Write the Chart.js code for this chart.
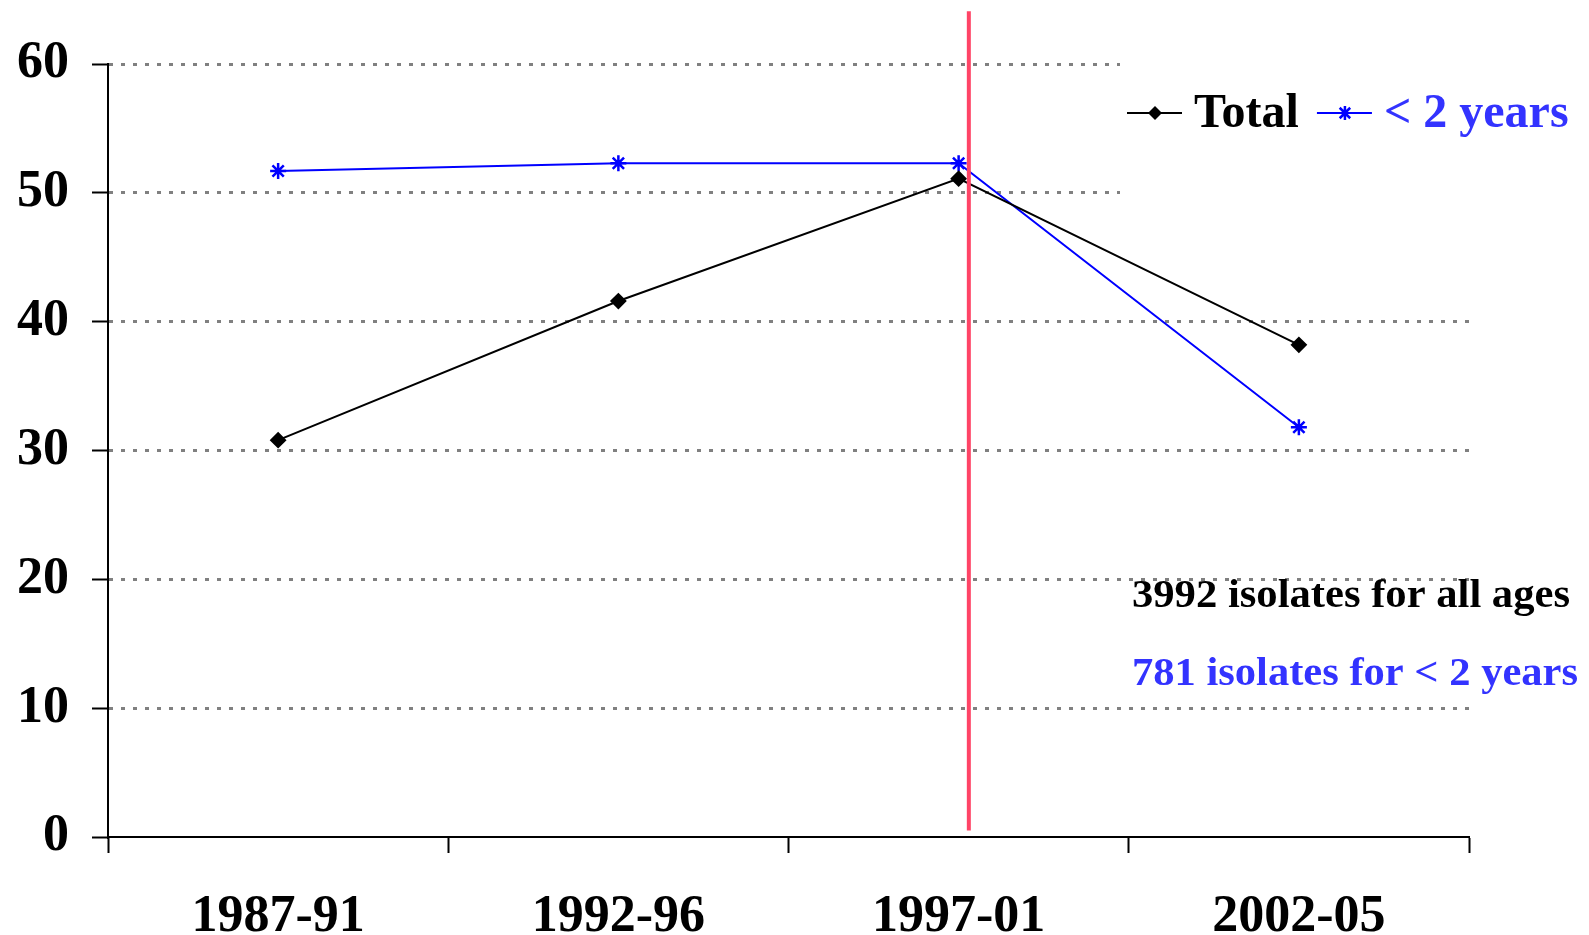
<!DOCTYPE html>
<html>
<head>
<meta charset="utf-8">
<script src="https://cdn.jsdelivr.net/npm/chart.js@4"></script>
<style>
  html, body { margin: 0; background: #fff; }
  #wrap { width: 1589px; height: 935px; }
</style>
</head>
<body>
<div id="wrap"><canvas id="myChart"></canvas></div>
<script>
const periods = ['1987-91', '1992-96', '1997-01', '2002-05'];
const totalPct = [30.8, 41.6, 51.1, 38.2];
const under2Pct = [51.7, 52.3, 52.3, 31.8];
const yMin = 0, yMax = 60, yStep = 10;
const splitAt = 2.03; // red marker line, in category units
const notes = [
  ['3992 isolates for all ages', '#000000'],
  ['781 isolates for < 2 years', '#3333FF']
];

const serif = '"Liberation Serif", "Times New Roman", serif';

function drawMarker(c, style, x, y, r, color) {
  c.save();
  c.strokeStyle = color;
  c.fillStyle = color;
  c.lineWidth = 2.5;
  c.beginPath();
  if (style === 'rectRot') {
    c.moveTo(x, y - r); c.lineTo(x + r, y); c.lineTo(x, y + r); c.lineTo(x - r, y);
    c.closePath(); c.fill();
  } else {
    const d = r * 0.75;
    c.moveTo(x, y - r); c.lineTo(x, y + r);
    c.moveTo(x - d, y - d); c.lineTo(x + d, y + d);
    c.moveTo(x - d, y + d); c.lineTo(x + d, y - d);
    c.stroke();
  }
  c.restore();
}

const extras = {
  id: 'extras',
  beforeDatasetsDraw(chart) {
    // legend box (white) hides the top grid lines on the right
    const c = chart.ctx;
    c.save();
    c.fillStyle = '#fff';
    c.fillRect(1120, 40, 469, 165);
    c.restore();
  },
  afterDatasetsDraw(chart) {
    const c = chart.ctx;
    const xs = chart.scales.x, ys = chart.scales.y;
    // red divider
    const rx = xs.getPixelForValue(splitAt);
    c.save();
    c.strokeStyle = '#FF4466';
    c.lineWidth = 4;
    c.beginPath();
    c.moveTo(rx, ys.getPixelForValue(64.1));
    c.lineTo(rx, ys.getPixelForValue(0.5));
    c.stroke();

    // legend
    const ds = chart.data.datasets;
    const textColors = ['#000000', '#3333FF'];
    let x = 1127;
    const ly = 113;
    c.font = 'bold 48px ' + serif;
    c.textBaseline = 'alphabetic';
    ds.forEach((d, i) => {
      c.strokeStyle = d.borderColor;
      c.lineWidth = 2;
      c.beginPath();
      c.moveTo(x, ly); c.lineTo(x + 55, ly);
      c.stroke();
      drawMarker(c, d.pointStyle, x + 28, ly, 7, d.borderColor);
      x += 55 + 12;
      c.fillStyle = textColors[i];
      c.fillText(d.label, x, 127);
      x += c.measureText(d.label).width + 18;
    });

    // notes (source text is set slightly wide)
    c.font = 'bold 40px ' + serif;
    const widths = [438, 446];
    notes.forEach((n, i) => {
      const w = c.measureText(n[0]).width;
      c.save();
      c.translate(1132, 607 + i * 78);
      c.scale(widths[i] / w, 1);
      c.fillStyle = n[1];
      c.fillText(n[0], 0, 0);
      c.restore();
    });
    c.restore();
  }
};

const ctx = document.getElementById('myChart');

new Chart(ctx, {
  type: 'line',
  data: {
    labels: periods,
    datasets: [{
      label: 'Total',
      data: totalPct,
      borderColor: '#000000',
      backgroundColor: '#000000',
      borderWidth: 2,
      pointStyle: 'rectRot',
      pointRadius: 7,
      pointHoverRadius: 7
    }, {
      label: '< 2 years',
      data: under2Pct,
      borderColor: '#0000FF',
      backgroundColor: '#0000FF',
      borderWidth: 2,
      pointStyle: 'star',
      pointRadius: 8,
      pointBorderWidth: 2.5,
      pointHoverRadius: 8
    }]
  },
  options: {
    responsive: true,
    maintainAspectRatio: false,
    animation: false,
    events: [],
    layout: { padding: { top: 64, right: 120, left: 0, bottom: 0 } },
    plugins: { legend: { display: false }, tooltip: { enabled: false } },
    scales: {
      x: {
        offset: true,
        grid: {
          offset: true,
          drawOnChartArea: false,
          drawTicks: true,
          tickLength: 16,
          tickColor: '#000',
          tickWidth: 2
        },
        border: { color: '#000', width: 2 },
        ticks: {
          color: '#000',
          padding: 33,
          font: { family: serif, size: 52, weight: 'bold' }
        },
        afterFit(scale) { scale.height = 98; }
      },
      y: {
        min: yMin,
        max: yMax,
        grid: {
          color: (c) => (c.tick && c.tick.value === 0 ? 'rgba(0,0,0,0)' : '#808080'),
          lineWidth: 3,
          tickLength: 16,
          tickColor: '#000',
          tickWidth: 2
        },
        border: { color: '#000', width: 2, dash: [4, 8] },
        ticks: {
          stepSize: yStep,
          color: '#000',
          padding: 23,
          font: { family: serif, size: 52, weight: 'bold' }
        },
        afterFit(scale) { scale.width = 108; }
      }
    }
  },
  plugins: [extras]
});
</script>
</body>
</html>
